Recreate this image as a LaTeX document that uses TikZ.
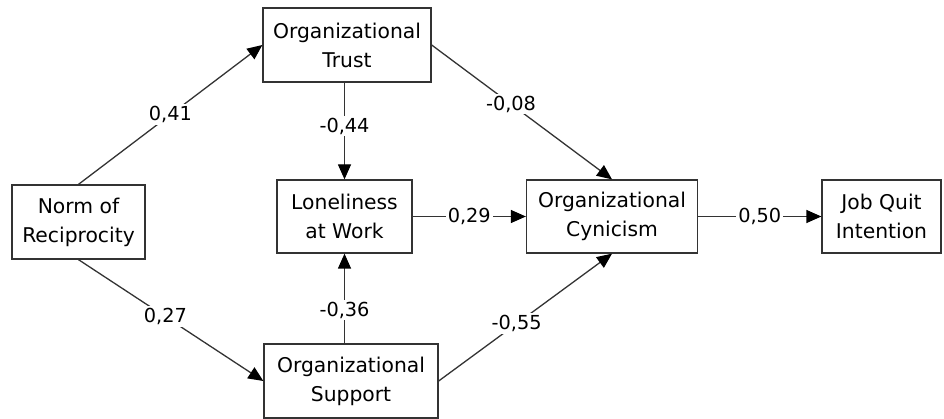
\documentclass[tikz,border=0pt]{standalone}
\usepackage{fontspec}
\setmainfont{DejaVu Sans}
\usetikzlibrary{arrows.meta}
\begin{document}
\begin{tikzpicture}[x=1pt,y=-1pt,
  box/.style={draw=black!80, line width=1.3pt, align=center, minimum height=74pt,
    inner sep=0pt, font=\fontsize{20.3}{29}\selectfont},
  link/.style={draw=black!80, line width=1.3pt, -{Triangle[length=15pt,width=13pt,color=black]}},
  coef/.style={fill=white, inner sep=2pt, font=\fontsize{19.3}{22}\selectfont}]
  \useasboundingbox (0,0) rectangle (944,419);

  % constructs
  \node[box, minimum width=133pt] (norm) at (78.5,222) {Norm of\\Reciprocity};
  \node[box, minimum width=168pt] (trust) at (347,45) {Organizational\\Trust};
  \node[box, minimum width=174pt] (support) at (351,381) {Organizational\\Support};
  \node[box, minimum width=135pt, minimum height=73pt] (lone) at (344.5,216.5) {Loneliness\\at Work};
  \node[box, minimum width=171pt, minimum height=73pt] (cyn) at (612,216.5) {Organizational\\Cynicism};
  \node[box, minimum width=119pt, minimum height=73pt] (job) at (881.5,216.5) {Job Quit\\Intention};

  % paths
  \draw[link] (norm.north) -- node[coef, pos=0.5] {0,41} (trust.west);
  \draw[link] (norm.south) -- node[coef, pos=0.47] {0,27} (support.west);
  \draw[link] (trust.south -| lone) -- node[coef, pos=0.45] {-0,44} (lone.north);
  \draw[link] (support.north -| lone) -- node[coef, pos=0.37] {-0,36} (lone.south);
  \draw[link] (trust.east) -- node[coef, pos=0.44] {-0,08} (cyn.north);
  \draw[link] (support.east) -- node[coef, pos=0.45] {-0,55} (cyn.south);
  \draw[link] (lone) -- node[coef] {0,29} (cyn);
  \draw[link] (cyn) -- node[coef] {0,50} (job);
\end{tikzpicture}
\end{document}
